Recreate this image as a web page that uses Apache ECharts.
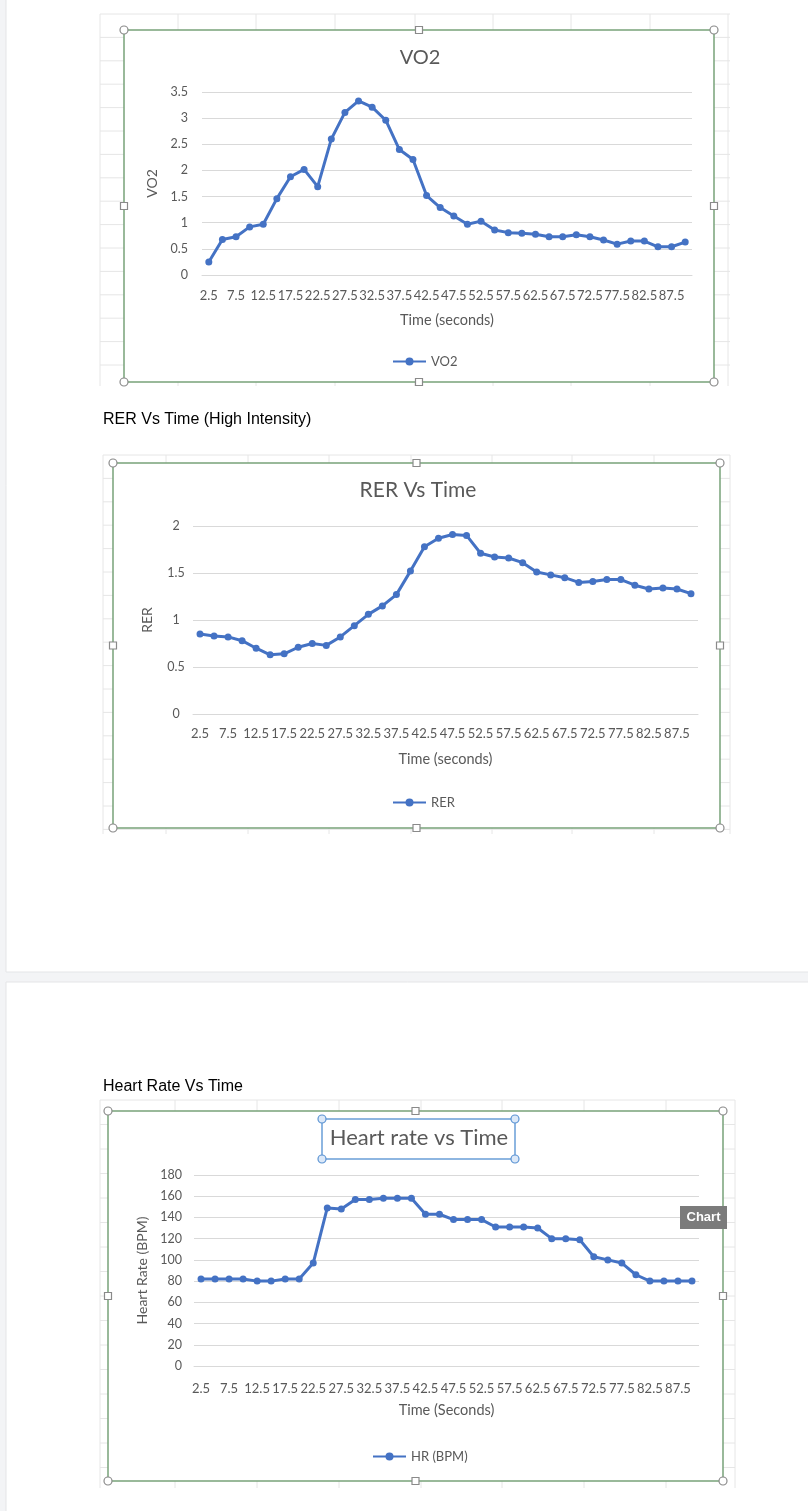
<!DOCTYPE html>
<html><head><meta charset="utf-8">
<script src="https://cdn.jsdelivr.net/npm/echarts@6/dist/echarts.min.js"></script>
<style>html,body{margin:0;padding:0;background:#f3f4f6;} #c{width:808px;height:1511px;}</style>
</head><body><div id="c"></div>
<script>
const timeLabels = ['2.5','5','7.5','10','12.5','15','17.5','20','22.5','25','27.5','30','32.5','35','37.5','40','42.5','45','47.5','50','52.5','55','57.5','60','62.5','65','67.5','70','72.5','75','77.5','80','82.5','85','87.5','90'];
const vo2 = [0.25,0.68,0.73,0.92,0.97,1.46,1.88,2.02,1.69,2.60,3.11,3.33,3.21,2.96,2.40,2.21,1.52,1.29,1.13,0.97,1.03,0.86,0.81,0.80,0.78,0.73,0.73,0.77,0.73,0.67,0.59,0.65,0.65,0.54,0.54,0.63];
const rer = [0.85,0.83,0.82,0.78,0.70,0.63,0.64,0.71,0.75,0.73,0.82,0.94,1.06,1.15,1.27,1.52,1.78,1.87,1.91,1.90,1.71,1.67,1.66,1.61,1.51,1.48,1.45,1.40,1.41,1.43,1.43,1.37,1.33,1.34,1.33,1.28];
const hr = [82,82,82,82,80,80,82,82,97,149,148,157,157,158,158,158,143,143,138,138,138,131,131,131,130,120,120,119,103,100,97,86,80,80,80,80];
const seriesNames = ['VO2','RER','HR (BPM)'];
const chartTitles = ['VO2','RER Vs Time','Heart rate vs Time'];
const xNames = ['Time (seconds)','Time (seconds)','Time (Seconds)'];
const yNames = ['VO2','RER','Heart Rate (BPM)'];
const yMax = [3.5, 2, 180];
const yStep = [0.5, 0.5, 20];

const FONT = 'Lato';
const GREY = '#595959';
const BLUE = '#4472C4';
const chart = echarts.init(document.getElementById('c'), null, {renderer:'canvas'});

// layout (pixels)
const grids = [
  {left:202, top:92, width:490, height:183},
  {left:193, top:526, width:505, height:188},
  {left:194, top:1175, width:505, height:191}
];
const labelMargin = [14, 13, 16];
const xNameGap = [38, 38, 37];
const yNameGap = [43, 39, 44];
const yLabelMargin = [14, 17, 12];
const yLabelAlign = ['right', 'center', 'right'];
const titlePos = [[420,48],[418,480],[419,1127]];
const titleSize = [20, 21, 22];
const legendPos = [[392,355],[392,796],[372,1450]];

const graphics = [];
function add(e){ graphics.push(e); }
// cards
add({type:'rect', z:-100, shape:{x:6,y:-10,width:820,height:982}, style:{fill:'#ffffff', stroke:'#e4e5e7', lineWidth:1}});
add({type:'rect', z:-100, shape:{x:6,y:982,width:820,height:560}, style:{fill:'#ffffff', stroke:'#e4e5e7', lineWidth:1}});
// spreadsheet grid behind each chart
function sheet(x0,x1,y0,y1,cols,rowH){
  cols.forEach(x=>add({type:'line', z:-90, shape:{x1:x,y1:y0,x2:x,y2:y1}, style:{stroke:'#e6e6e6', lineWidth:1}}));
  for(let y=y0; y<=y1; y+=rowH) add({type:'line', z:-90, shape:{x1:x0,y1:y,x2:x1,y2:y}, style:{stroke:'#e6e6e6', lineWidth:1}});
}
sheet(100,730,14,386,[100,178,256,335,415,493,571,650,728],23.4);
sheet(103,730,455,834,[103,166,248,329,411,492,572,654,730],23.4);
sheet(100,735,1100,1488,[100,175,257,339,421,502,584,666,735],24.5);
// chart frames
const frames = [[124,30,714,382],[113,463,720,828],[108,1111,723,1481]];
frames.forEach(f=>{
  add({type:'rect', z:-50, shape:{x:f[0],y:f[1],width:f[2]-f[0],height:f[3]-f[1]}, style:{fill:'#ffffff', stroke:'#78a27a', lineWidth:1.5}});
  const mx=(f[0]+f[2])/2, my=(f[1]+f[3])/2;
  [[f[0],f[1]],[f[2],f[1]],[f[0],f[3]],[f[2],f[3]]].forEach(p=>add({type:'circle', z:50, shape:{cx:p[0],cy:p[1],r:4}, style:{fill:'#ffffff', stroke:'#8a8a8a', lineWidth:1.2}}));
  [[mx,f[1]],[f[0],my],[f[2],my],[mx,f[3]]].forEach(p=>add({type:'rect', z:50, shape:{x:p[0]-3.5,y:p[1]-3.5,width:7,height:7}, style:{fill:'#ffffff', stroke:'#8a8a8a', lineWidth:1.2}}));
});
// document headings
add({type:'text', z:10, style:{text:'RER Vs Time (High Intensity)', x:103, y:420, verticalAlign:'middle', fill:'#000000', font:'16px "Liberation Sans"'}});
add({type:'text', z:10, style:{text:'Heart Rate Vs Time', x:103, y:1087, verticalAlign:'middle', fill:'#000000', font:'16px "Liberation Sans"'}});
// selected title box on chart 3
add({type:'rect', z:40, shape:{x:322,y:1119,width:193,height:40}, style:{fill:'none', stroke:'#6a9fd8', lineWidth:1.5}});
[[322,1119],[515,1119],[322,1159],[515,1159]].forEach(p=>add({type:'circle', z:41, shape:{cx:p[0],cy:p[1],r:4}, style:{fill:'#dbe8f8', stroke:'#5b93d3', lineWidth:1.2}}));
// "Chart" tooltip
add({type:'rect', z:60, shape:{x:680,y:1206,width:47,height:23}, style:{fill:'#7b7b7b'}});
add({type:'text', z:61, style:{text:'Chart', x:703.5, y:1217.5, align:'center', verticalAlign:'middle', fill:'#ffffff', font:'bold 13px "Liberation Sans"'}});

const datasets = [vo2, rer, hr];
const option = {
  animation:false,
  textStyle:{fontFamily:FONT},
  graphic:{elements:graphics},
  title: chartTitles.map((t,i)=>({text:t, left:titlePos[i][0], top:titlePos[i][1], textAlign:'center', padding:0,
    textStyle:{fontFamily:FONT, fontSize:titleSize[i], fontWeight:'normal', color:GREY}})),
  legend: seriesNames.map((n,i)=>({data:[n], left:legendPos[i][0], top:legendPos[i][1], padding:0, itemWidth:33, itemHeight:10,
    textStyle:{fontFamily:FONT, fontSize:13, color:GREY}})),
  grid: grids,
  xAxis: grids.map((g,i)=>({gridIndex:i, type:'category', data:timeLabels, boundaryGap:true,
    axisTick:{show:false}, axisLine:{lineStyle:{color:'#d9d9d9'}},
    axisLabel:{interval:1, hideOverlap:false, color:GREY, fontSize:13, fontFamily:FONT, margin:labelMargin[i]},
    name:xNames[i], nameLocation:'middle', nameGap:xNameGap[i], nameTextStyle:{color:GREY, fontSize:14.5, fontFamily:FONT}})),
  yAxis: grids.map((g,i)=>({gridIndex:i, type:'value', min:0, max:yMax[i], interval:yStep[i],
    axisLine:{show:false}, axisTick:{show:false}, splitLine:{lineStyle:{color:'#d9d9d9'}},
    axisLabel:{color:GREY, fontSize:12.5, fontFamily:FONT, margin:yLabelMargin[i], align:yLabelAlign[i]},
    name:yNames[i], nameLocation:'middle', nameGap:yNameGap[i], nameRotate:90, nameTextStyle:{color:GREY, fontSize:14, fontFamily:FONT}})),
  series: datasets.map((d,i)=>({name:seriesNames[i], type:'line', xAxisIndex:i, yAxisIndex:i, data:d,
    symbol:'circle', symbolSize:7, lineStyle:{color:BLUE, width:3}, itemStyle:{color:BLUE}}))
};
chart.setOption(option);
</script>
</body></html>
